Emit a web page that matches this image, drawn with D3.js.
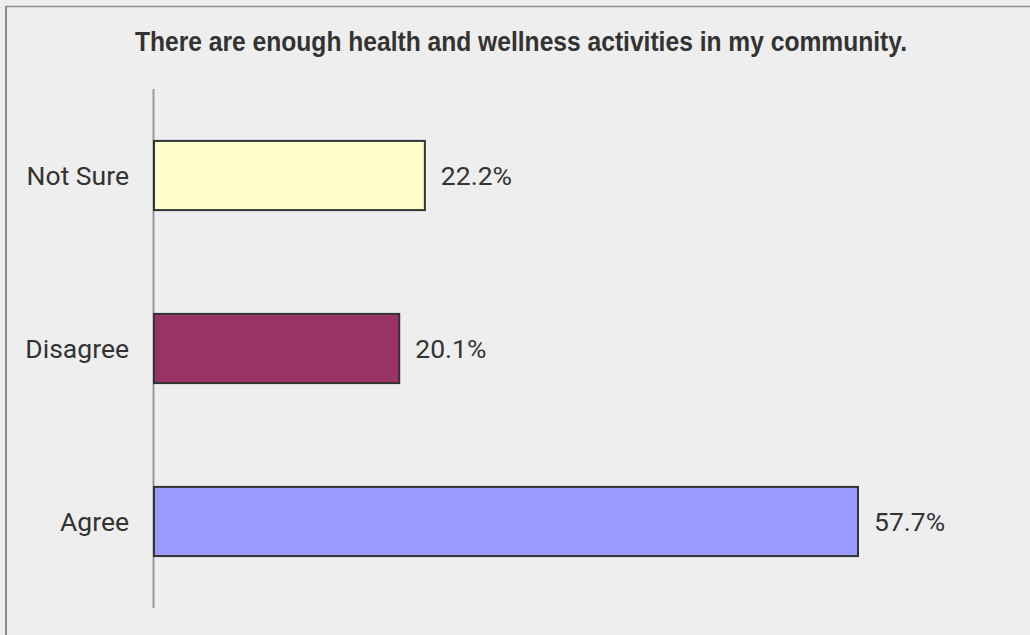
<!DOCTYPE html>
<html><head><meta charset="utf-8">
<script src="https://cdn.jsdelivr.net/npm/d3@7"></script>
<style>body{margin:0;background:#eeeeee;} svg{display:block;}</style>
</head><body>
<svg id="c" width="1030" height="635"></svg>
<script>
const titleText = "There are enough health and wellness activities in my community.";
const categories = ["Not Sure", "Disagree", "Agree"];
const values = [22.2, 20.1, 57.7];
const colors = ["#ffffcc", "#993366", "#9999ff"];

const svg = d3.select("#c");
svg.append("rect").attr("x",0).attr("y",0).attr("width",1030).attr("height",635).attr("fill","#eeeeee");
svg.append("line").attr("x1",5.5).attr("x2",1030).attr("y1",6.5).attr("y2",6.5).attr("stroke","#8c8c8c").attr("stroke-width",1.5);
svg.append("line").attr("x1",6).attr("x2",6).attr("y1",6).attr("y2",635).attr("stroke","#8c8c8c").attr("stroke-width",2);

svg.append("text").attr("x",521).attr("y",51).attr("text-anchor","middle")
  .attr("font-family","Liberation Sans, Arial, sans-serif").attr("font-size",28.5).attr("font-weight","bold")
  .attr("fill","#333").attr("textLength",772).attr("lengthAdjust","spacingAndGlyphs")
  .text(titleText);

const x = d3.scaleLinear().domain([0, 57.7]).range([154, 858]);
const y = d3.scaleBand().domain(categories).range([89, 608]).paddingInner(0.6).paddingOuter(0.3);

svg.append("line").attr("x1",153.5).attr("x2",153.5).attr("y1",89).attr("y2",608).attr("stroke","#999").attr("stroke-width",2);

svg.selectAll("rect.bar").data(categories).enter().append("rect").attr("class","bar")
  .attr("x", x(0)).attr("y", d=>y(d)).attr("width", (d,i)=>x(values[i])-x(0)).attr("height", y.bandwidth())
  .attr("fill",(d,i)=>colors[i]).attr("stroke","#333").attr("stroke-width",2);

svg.selectAll("text.cat").data(categories).enter().append("text").attr("class","cat")
  .attr("x",129).attr("y",d=>y(d)+y.bandwidth()/2).attr("dy","0.35em").attr("text-anchor","end")
  .attr("font-family","Roboto, sans-serif").attr("font-size",26.5).attr("fill","#333").text(d=>d);

svg.selectAll("text.val").data(categories).enter().append("text").attr("class","val")
  .attr("x",(d,i)=>x(values[i])+16).attr("y",d=>y(d)+y.bandwidth()/2).attr("dy","0.35em")
  .attr("font-family","Roboto, sans-serif").attr("font-size",26.5).attr("fill","#333").text((d,i)=>values[i].toFixed(1)+"%");
</script>
</body></html>
